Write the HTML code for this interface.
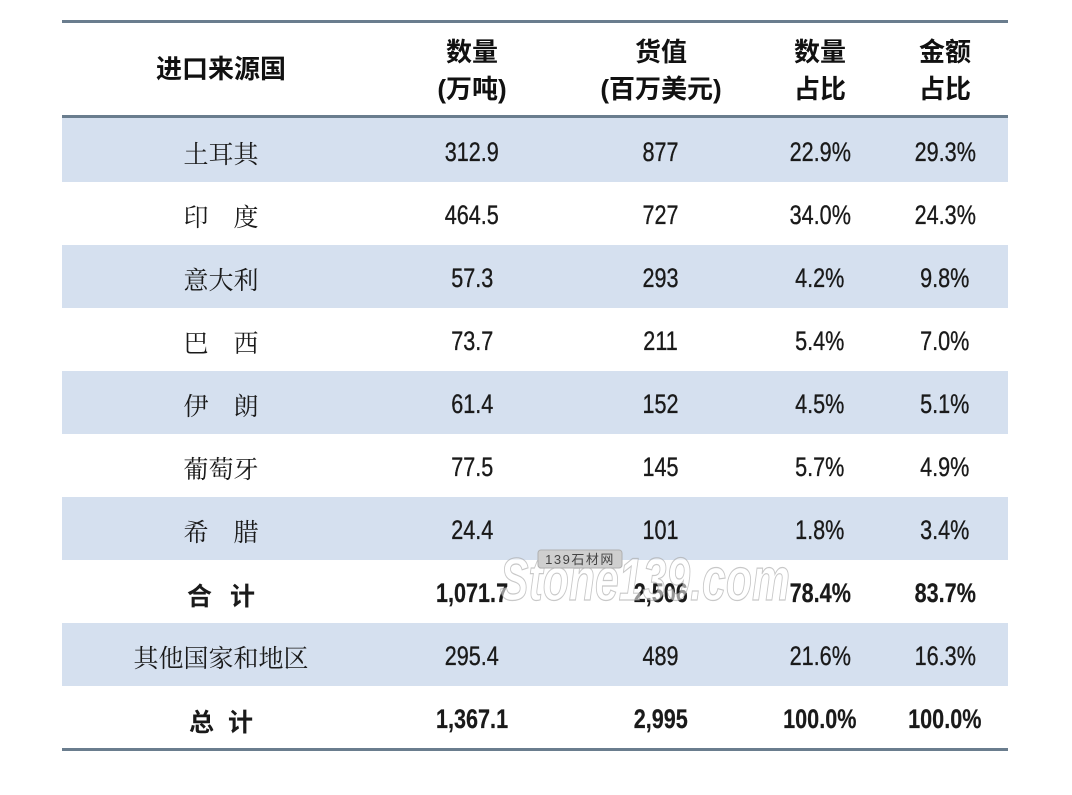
<!DOCTYPE html>
<html><head><meta charset="utf-8">
<style>
html,body{margin:0;padding:0;background:#fff;}
body{width:1072px;height:795px;position:relative;overflow:hidden;}
.line{position:absolute;left:62px;width:946px;height:3px;background:#6a7d8e;}
.band{position:absolute;left:62px;width:946px;background:#d5e0ef;}
.c{position:absolute;width:200px;margin-left:-100px;text-align:center;white-space:nowrap;color:#1a1a1a;}
.cn{font-family:"Liberation Serif","Noto Serif CJK SC",serif;font-size:25px;}
.num{font-family:"Liberation Sans",sans-serif;font-size:27px;margin-top:2px;-webkit-text-stroke:0.35px #1a1a1a;}
.num span{display:inline-block;transform:scaleX(0.8);transform-origin:center;}
.b{font-weight:bold;-webkit-text-stroke:0.2px #111;}
.hd{font-family:"Liberation Sans","Noto Sans CJK SC",sans-serif;font-size:26px;font-weight:bold;line-height:37px;color:#111;}
.bcn{font-family:"Liberation Sans","Noto Sans CJK SC",sans-serif;font-size:25px;font-weight:bold;}
</style></head><body>

<div class="line" style="top:20px"></div>
<div class="line" style="top:115px"></div>
<div class="line" style="top:748px"></div>

<div class="band" style="top:118px;height:64px"></div>
<div class="band" style="top:245px;height:63px"></div>
<div class="band" style="top:371px;height:63px"></div>
<div class="band" style="top:497px;height:63px"></div>
<div class="band" style="top:623px;height:63px"></div>

<!-- header -->
<div class="c hd" style="left:221px;top:51px">进口来源国</div>
<div class="c hd" style="left:472px;top:34px">数量<br>(万吨)</div>
<div class="c hd" style="left:661px;top:34px">货值<br>(百万美元)</div>
<div class="c hd" style="left:820px;top:34px">数量<br>占比</div>
<div class="c hd" style="left:945px;top:34px">金额<br>占比</div>

<div style="position:absolute;left:0;top:0;width:1072px;height:795px">
<div class="c cn" style="left:221px;top:135px">土耳其</div>
<div class="c num" style="left:472px;top:135px"><span>312.9</span></div>
<div class="c num" style="left:661px;top:135px"><span>877</span></div>
<div class="c num" style="left:820px;top:135px"><span>22.9%</span></div>
<div class="c num" style="left:945px;top:135px"><span>29.3%</span></div>

<div class="c cn" style="left:221px;top:198px">印　度</div>
<div class="c num" style="left:472px;top:198px"><span>464.5</span></div>
<div class="c num" style="left:661px;top:198px"><span>727</span></div>
<div class="c num" style="left:820px;top:198px"><span>34.0%</span></div>
<div class="c num" style="left:945px;top:198px"><span>24.3%</span></div>

<div class="c cn" style="left:221px;top:261px">意大利</div>
<div class="c num" style="left:472px;top:261px"><span>57.3</span></div>
<div class="c num" style="left:661px;top:261px"><span>293</span></div>
<div class="c num" style="left:820px;top:261px"><span>4.2%</span></div>
<div class="c num" style="left:945px;top:261px"><span>9.8%</span></div>

<div class="c cn" style="left:221px;top:324px">巴　西</div>
<div class="c num" style="left:472px;top:324px"><span>73.7</span></div>
<div class="c num" style="left:661px;top:324px"><span>211</span></div>
<div class="c num" style="left:820px;top:324px"><span>5.4%</span></div>
<div class="c num" style="left:945px;top:324px"><span>7.0%</span></div>

<div class="c cn" style="left:221px;top:387px">伊　朗</div>
<div class="c num" style="left:472px;top:387px"><span>61.4</span></div>
<div class="c num" style="left:661px;top:387px"><span>152</span></div>
<div class="c num" style="left:820px;top:387px"><span>4.5%</span></div>
<div class="c num" style="left:945px;top:387px"><span>5.1%</span></div>

<div class="c cn" style="left:221px;top:450px">葡萄牙</div>
<div class="c num" style="left:472px;top:450px"><span>77.5</span></div>
<div class="c num" style="left:661px;top:450px"><span>145</span></div>
<div class="c num" style="left:820px;top:450px"><span>5.7%</span></div>
<div class="c num" style="left:945px;top:450px"><span>4.9%</span></div>

<div class="c cn" style="left:221px;top:513px">希　腊</div>
<div class="c num" style="left:472px;top:513px"><span>24.4</span></div>
<div class="c num" style="left:661px;top:513px"><span>101</span></div>
<div class="c num" style="left:820px;top:513px"><span>1.8%</span></div>
<div class="c num" style="left:945px;top:513px"><span>3.4%</span></div>

<div class="c bcn" style="left:221px;top:577px">合<span style="display:inline-block;width:18px"></span>计</div>
<div class="c num b" style="left:472px;top:576px"><span>1,071.7</span></div>
<div class="c num b" style="left:661px;top:576px"><span>2,506</span></div>
<div class="c num b" style="left:820px;top:576px"><span>78.4%</span></div>
<div class="c num b" style="left:945px;top:576px"><span>83.7%</span></div>

<div class="c cn" style="left:221px;top:639px">其他国家和地区</div>
<div class="c num" style="left:472px;top:639px"><span>295.4</span></div>
<div class="c num" style="left:661px;top:639px"><span>489</span></div>
<div class="c num" style="left:820px;top:639px"><span>21.6%</span></div>
<div class="c num" style="left:945px;top:639px"><span>16.3%</span></div>

<div class="c bcn" style="left:221px;top:703px">总<span style="display:inline-block;width:14px"></span>计</div>
<div class="c num b" style="left:472px;top:702px"><span>1,367.1</span></div>
<div class="c num b" style="left:661px;top:702px"><span>2,995</span></div>
<div class="c num b" style="left:820px;top:702px"><span>100.0%</span></div>
<div class="c num b" style="left:945px;top:702px"><span>100.0%</span></div>
</div>

<!-- watermark -->
<svg style="position:absolute;left:0;top:0" width="1072" height="795">
  <text x="500" y="600" font-family="Liberation Sans, sans-serif" font-size="60" font-weight="bold" font-style="italic" textLength="290" lengthAdjust="spacingAndGlyphs" fill="#ffffff" fill-opacity="0.55" stroke="#9a9a9a" stroke-opacity="0.55" stroke-width="1.2">Stone139.com</text>
  <rect x="538" y="550" width="84" height="18" rx="3" fill="#cfcfcf" stroke="#b0b0b0" stroke-width="1"/>
  <text x="580" y="564" text-anchor="middle" font-family="Liberation Sans, Noto Sans CJK SC, sans-serif" font-size="13" letter-spacing="1.5" fill="#444">139石材网</text>
</svg>
</body></html>
